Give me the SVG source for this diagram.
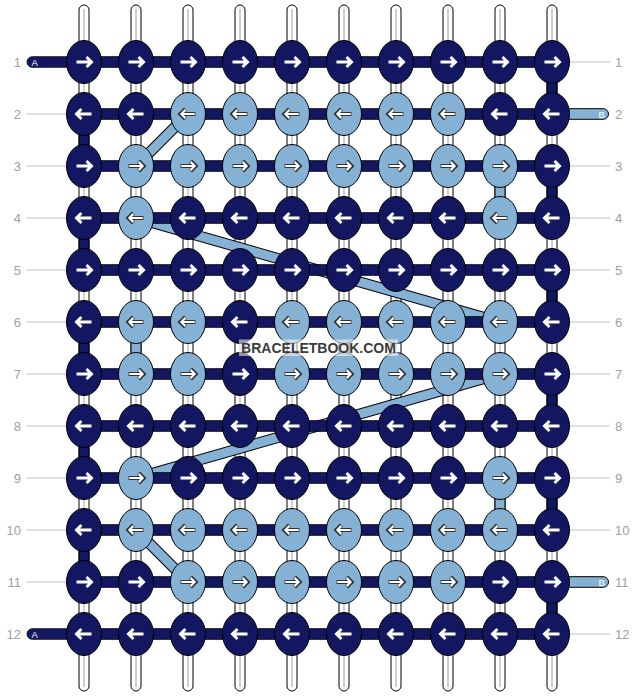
<svg xmlns="http://www.w3.org/2000/svg" xmlns:xlink="http://www.w3.org/1999/xlink" width="636" height="696" viewBox="0 0 636 696">
<style>
.lab{font-family:"Liberation Sans",Arial,sans-serif;font-size:13px;fill:#a0a0a0}
.ll{stroke:#c0c0c0;stroke-width:1}
.vs{fill:#ffffff;stroke:#000;stroke-width:1}
.vc{stroke:#c4c4c4;stroke-width:1.6}
.sN{fill:#131761;stroke:#000;stroke-width:1}
.sL{fill:#85b1d4;stroke:#000;stroke-width:1}
.hN{fill:#131761;stroke:#000;stroke-width:0.8}
.dO{stroke:#000;stroke-width:11;stroke-linecap:butt}
.dI{stroke:#85b1d4;stroke-width:9;stroke-linecap:butt}
ellipse{stroke:#000;stroke-width:1}
.N{fill:#131761}
.L{fill:#85b1d4}
.tl{font-family:"Liberation Sans",Arial,sans-serif;font-size:9.5px;fill:#ffffff}
</style>
<defs>
<g id="r"><path d="M-7.5,0 H7.5 M2.5,-5 L7.5,0 L2.5,5" fill="none" stroke="#fff" stroke-width="3"/></g>
<g id="l"><path d="M7.5,0 H-7.5 M-2.5,-5 L-7.5,0 L-2.5,5" fill="none" stroke="#fff" stroke-width="3"/></g>
<g id="rl"><path d="M-7.5,0 H7.5 M2.5,-5 L7.5,0 L2.5,5" fill="none" stroke="#333" stroke-width="4.2"/><path d="M-6.8,0 H6.6 M2.5,-4.3 L6.6,0 L2.5,4.3" fill="none" stroke="#fff" stroke-width="2.2"/></g>
<g id="ll"><path d="M7.5,0 H-7.5 M-2.5,-5 L-7.5,0 L-2.5,5" fill="none" stroke="#333" stroke-width="4.2"/><path d="M6.8,0 H-6.6 M-2.5,-4.3 L-6.6,0 L-2.5,4.3" fill="none" stroke="#fff" stroke-width="2.2"/></g>
</defs>
<rect width="636" height="696" fill="#ffffff"/>
<g id="labels">
<line class="ll" x1="26" y1="114" x2="70" y2="114"/><line class="ll" x1="26" y1="166" x2="70" y2="166"/><line class="ll" x1="26" y1="218" x2="70" y2="218"/><line class="ll" x1="26" y1="270" x2="70" y2="270"/><line class="ll" x1="26" y1="322" x2="70" y2="322"/><line class="ll" x1="26" y1="374" x2="70" y2="374"/><line class="ll" x1="26" y1="426" x2="70" y2="426"/><line class="ll" x1="26" y1="478" x2="70" y2="478"/><line class="ll" x1="26" y1="530" x2="70" y2="530"/><line class="ll" x1="26" y1="582" x2="70" y2="582"/>
<line class="ll" x1="566" y1="62" x2="610" y2="62"/><line class="ll" x1="566" y1="166" x2="610" y2="166"/><line class="ll" x1="566" y1="218" x2="610" y2="218"/><line class="ll" x1="566" y1="270" x2="610" y2="270"/><line class="ll" x1="566" y1="322" x2="610" y2="322"/><line class="ll" x1="566" y1="374" x2="610" y2="374"/><line class="ll" x1="566" y1="426" x2="610" y2="426"/><line class="ll" x1="566" y1="478" x2="610" y2="478"/><line class="ll" x1="566" y1="530" x2="610" y2="530"/><line class="ll" x1="566" y1="634" x2="610" y2="634"/>
<g class="lab" text-anchor="end">
<text x="21" y="67">1</text><text x="21" y="119">2</text><text x="21" y="171">3</text><text x="21" y="223">4</text><text x="21" y="275">5</text><text x="21" y="327">6</text><text x="21" y="379">7</text><text x="21" y="431">8</text><text x="21" y="483">9</text><text x="21" y="535">10</text><text x="21" y="587">11</text><text x="21" y="639">12</text>
</g>
<g class="lab">
<text x="615" y="67">1</text><text x="615" y="119">2</text><text x="615" y="171">3</text><text x="615" y="223">4</text><text x="615" y="275">5</text><text x="615" y="327">6</text><text x="615" y="379">7</text><text x="615" y="431">8</text><text x="615" y="483">9</text><text x="615" y="535">10</text><text x="615" y="587">11</text><text x="615" y="639">12</text>
</g>
</g>
<g id="connectors">
<g id="vertical-strings">
<rect class="vs" x="79" y="5" width="10" height="686" rx="5"/><rect class="vs" x="131" y="5" width="10" height="686" rx="5"/><rect class="vs" x="183" y="5" width="10" height="686" rx="5"/><rect class="vs" x="235" y="5" width="10" height="686" rx="5"/><rect class="vs" x="287" y="5" width="10" height="686" rx="5"/><rect class="vs" x="339" y="5" width="10" height="686" rx="5"/><rect class="vs" x="391" y="5" width="10" height="686" rx="5"/><rect class="vs" x="443" y="5" width="10" height="686" rx="5"/><rect class="vs" x="495" y="5" width="10" height="686" rx="5"/><rect class="vs" x="547" y="5" width="10" height="686" rx="5"/>
<line class="vc" x1="84" y1="9" x2="84" y2="687"/><line class="vc" x1="136" y1="9" x2="136" y2="687"/><line class="vc" x1="188" y1="9" x2="188" y2="687"/><line class="vc" x1="240" y1="9" x2="240" y2="687"/><line class="vc" x1="292" y1="9" x2="292" y2="687"/><line class="vc" x1="344" y1="9" x2="344" y2="687"/><line class="vc" x1="396" y1="9" x2="396" y2="687"/><line class="vc" x1="448" y1="9" x2="448" y2="687"/><line class="vc" x1="500" y1="9" x2="500" y2="687"/><line class="vc" x1="552" y1="9" x2="552" y2="687"/>
</g>
<g id="vertical-segments">
<rect class="sN" x="79" y="114" width="10" height="52"/><rect class="sN" x="79" y="218" width="10" height="52"/><rect class="sN" x="79" y="322" width="10" height="52"/><rect class="sN" x="79" y="426" width="10" height="52"/><rect class="sN" x="79" y="530" width="10" height="52"/>
<rect class="sN" x="547" y="62" width="10" height="52"/><rect class="sN" x="547" y="166" width="10" height="52"/><rect class="sN" x="547" y="270" width="10" height="52"/><rect class="sN" x="547" y="374" width="10" height="52"/><rect class="sN" x="547" y="478" width="10" height="52"/><rect class="sN" x="547" y="582" width="10" height="52"/>
<rect class="sL" x="495" y="166" width="10" height="52"/><rect class="sL" x="495" y="478" width="10" height="52"/><rect class="sL" x="131" y="322" width="10" height="52"/>
</g>
<g id="diagonals">
<line class="dO" x1="188" y1="114" x2="136" y2="166"/><line class="dI" x1="188" y1="114" x2="136" y2="166"/>
<line class="dO" x1="136" y1="218" x2="500" y2="322"/><line class="dI" x1="136" y1="218" x2="500" y2="322"/>
<line class="dO" x1="500" y1="374" x2="136" y2="478"/><line class="dI" x1="500" y1="374" x2="136" y2="478"/>
<line class="dO" x1="136" y1="530" x2="188" y2="582"/><line class="dI" x1="136" y1="530" x2="188" y2="582"/>
</g>
<g id="horizontal-strings">
<rect class="hN" x="27" y="56.7" width="63" height="10.6" rx="5.3"/><rect class="hN" x="27" y="628.7" width="63" height="10.6" rx="5.3"/>
<rect class="hN" x="84" y="56.7" width="468" height="10.6"/><rect class="hN" x="84" y="108.7" width="468" height="10.6"/><rect class="hN" x="84" y="160.7" width="468" height="10.6"/><rect class="hN" x="84" y="212.7" width="468" height="10.6"/><rect class="hN" x="84" y="264.7" width="468" height="10.6"/><rect class="hN" x="84" y="316.7" width="468" height="10.6"/><rect class="hN" x="84" y="368.7" width="468" height="10.6"/><rect class="hN" x="84" y="420.7" width="468" height="10.6"/><rect class="hN" x="84" y="472.7" width="468" height="10.6"/><rect class="hN" x="84" y="524.7" width="468" height="10.6"/><rect class="hN" x="84" y="576.7" width="468" height="10.6"/><rect class="hN" x="84" y="628.7" width="468" height="10.6"/>
<rect class="sL" x="545" y="108.7" width="63.5" height="10.6" rx="5.3"/><rect class="sL" x="545" y="576.7" width="63.5" height="10.6" rx="5.3"/>
<text class="tl" x="31.5" y="65.5">A</text><text class="tl" x="31.5" y="637.5">A</text>
<text class="tl" x="598.5" y="117.5">B</text><text class="tl" x="598.5" y="585.5">B</text>
</g>
</g>
<g id="knots">
<g id="k1-1"><ellipse class="N" cx="84" cy="62" rx="17.5" ry="21.5"/><use href="#r" x="84" y="62"/></g>
<g id="k1-2"><ellipse class="N" cx="136" cy="62" rx="17.5" ry="21.5"/><use href="#r" x="136" y="62"/></g>
<g id="k1-3"><ellipse class="N" cx="188" cy="62" rx="17.5" ry="21.5"/><use href="#r" x="188" y="62"/></g>
<g id="k1-4"><ellipse class="N" cx="240" cy="62" rx="17.5" ry="21.5"/><use href="#r" x="240" y="62"/></g>
<g id="k1-5"><ellipse class="N" cx="292" cy="62" rx="17.5" ry="21.5"/><use href="#r" x="292" y="62"/></g>
<g id="k1-6"><ellipse class="N" cx="344" cy="62" rx="17.5" ry="21.5"/><use href="#r" x="344" y="62"/></g>
<g id="k1-7"><ellipse class="N" cx="396" cy="62" rx="17.5" ry="21.5"/><use href="#r" x="396" y="62"/></g>
<g id="k1-8"><ellipse class="N" cx="448" cy="62" rx="17.5" ry="21.5"/><use href="#r" x="448" y="62"/></g>
<g id="k1-9"><ellipse class="N" cx="500" cy="62" rx="17.5" ry="21.5"/><use href="#r" x="500" y="62"/></g>
<g id="k1-10"><ellipse class="N" cx="552" cy="62" rx="17.5" ry="21.5"/><use href="#r" x="552" y="62"/></g>

<g id="k2-1"><ellipse class="N" cx="84" cy="114" rx="17.5" ry="21.5"/><use href="#l" x="84" y="114"/></g>
<g id="k2-2"><ellipse class="N" cx="136" cy="114" rx="17.5" ry="21.5"/><use href="#l" x="136" y="114"/></g>
<g id="k2-3"><ellipse class="L" cx="188" cy="114" rx="17.5" ry="21.5"/><use href="#ll" x="188" y="114"/></g>
<g id="k2-4"><ellipse class="L" cx="240" cy="114" rx="17.5" ry="21.5"/><use href="#ll" x="240" y="114"/></g>
<g id="k2-5"><ellipse class="L" cx="292" cy="114" rx="17.5" ry="21.5"/><use href="#ll" x="292" y="114"/></g>
<g id="k2-6"><ellipse class="L" cx="344" cy="114" rx="17.5" ry="21.5"/><use href="#ll" x="344" y="114"/></g>
<g id="k2-7"><ellipse class="L" cx="396" cy="114" rx="17.5" ry="21.5"/><use href="#ll" x="396" y="114"/></g>
<g id="k2-8"><ellipse class="L" cx="448" cy="114" rx="17.5" ry="21.5"/><use href="#ll" x="448" y="114"/></g>
<g id="k2-9"><ellipse class="N" cx="500" cy="114" rx="17.5" ry="21.5"/><use href="#l" x="500" y="114"/></g>
<g id="k2-10"><ellipse class="N" cx="552" cy="114" rx="17.5" ry="21.5"/><use href="#l" x="552" y="114"/></g>

<g id="k3-1"><ellipse class="N" cx="84" cy="166" rx="17.5" ry="21.5"/><use href="#r" x="84" y="166"/></g>
<g id="k3-2"><ellipse class="L" cx="136" cy="166" rx="17.5" ry="21.5"/><use href="#rl" x="136" y="166"/></g>
<g id="k3-3"><ellipse class="L" cx="188" cy="166" rx="17.5" ry="21.5"/><use href="#rl" x="188" y="166"/></g>
<g id="k3-4"><ellipse class="L" cx="240" cy="166" rx="17.5" ry="21.5"/><use href="#rl" x="240" y="166"/></g>
<g id="k3-5"><ellipse class="L" cx="292" cy="166" rx="17.5" ry="21.5"/><use href="#rl" x="292" y="166"/></g>
<g id="k3-6"><ellipse class="L" cx="344" cy="166" rx="17.5" ry="21.5"/><use href="#rl" x="344" y="166"/></g>
<g id="k3-7"><ellipse class="L" cx="396" cy="166" rx="17.5" ry="21.5"/><use href="#rl" x="396" y="166"/></g>
<g id="k3-8"><ellipse class="L" cx="448" cy="166" rx="17.5" ry="21.5"/><use href="#rl" x="448" y="166"/></g>
<g id="k3-9"><ellipse class="L" cx="500" cy="166" rx="17.5" ry="21.5"/><use href="#rl" x="500" y="166"/></g>
<g id="k3-10"><ellipse class="N" cx="552" cy="166" rx="17.5" ry="21.5"/><use href="#r" x="552" y="166"/></g>

<g id="k4-1"><ellipse class="N" cx="84" cy="218" rx="17.5" ry="21.5"/><use href="#l" x="84" y="218"/></g>
<g id="k4-2"><ellipse class="L" cx="136" cy="218" rx="17.5" ry="21.5"/><use href="#ll" x="136" y="218"/></g>
<g id="k4-3"><ellipse class="N" cx="188" cy="218" rx="17.5" ry="21.5"/><use href="#l" x="188" y="218"/></g>
<g id="k4-4"><ellipse class="N" cx="240" cy="218" rx="17.5" ry="21.5"/><use href="#l" x="240" y="218"/></g>
<g id="k4-5"><ellipse class="N" cx="292" cy="218" rx="17.5" ry="21.5"/><use href="#l" x="292" y="218"/></g>
<g id="k4-6"><ellipse class="N" cx="344" cy="218" rx="17.5" ry="21.5"/><use href="#l" x="344" y="218"/></g>
<g id="k4-7"><ellipse class="N" cx="396" cy="218" rx="17.5" ry="21.5"/><use href="#l" x="396" y="218"/></g>
<g id="k4-8"><ellipse class="N" cx="448" cy="218" rx="17.5" ry="21.5"/><use href="#l" x="448" y="218"/></g>
<g id="k4-9"><ellipse class="L" cx="500" cy="218" rx="17.5" ry="21.5"/><use href="#ll" x="500" y="218"/></g>
<g id="k4-10"><ellipse class="N" cx="552" cy="218" rx="17.5" ry="21.5"/><use href="#l" x="552" y="218"/></g>

<g id="k5-1"><ellipse class="N" cx="84" cy="270" rx="17.5" ry="21.5"/><use href="#r" x="84" y="270"/></g>
<g id="k5-2"><ellipse class="N" cx="136" cy="270" rx="17.5" ry="21.5"/><use href="#r" x="136" y="270"/></g>
<g id="k5-3"><ellipse class="N" cx="188" cy="270" rx="17.5" ry="21.5"/><use href="#r" x="188" y="270"/></g>
<g id="k5-4"><ellipse class="N" cx="240" cy="270" rx="17.5" ry="21.5"/><use href="#r" x="240" y="270"/></g>
<g id="k5-5"><ellipse class="N" cx="292" cy="270" rx="17.5" ry="21.5"/><use href="#r" x="292" y="270"/></g>
<g id="k5-6"><ellipse class="N" cx="344" cy="270" rx="17.5" ry="21.5"/><use href="#r" x="344" y="270"/></g>
<g id="k5-7"><ellipse class="N" cx="396" cy="270" rx="17.5" ry="21.5"/><use href="#r" x="396" y="270"/></g>
<g id="k5-8"><ellipse class="N" cx="448" cy="270" rx="17.5" ry="21.5"/><use href="#r" x="448" y="270"/></g>
<g id="k5-9"><ellipse class="N" cx="500" cy="270" rx="17.5" ry="21.5"/><use href="#r" x="500" y="270"/></g>
<g id="k5-10"><ellipse class="N" cx="552" cy="270" rx="17.5" ry="21.5"/><use href="#r" x="552" y="270"/></g>

<g id="k6-1"><ellipse class="N" cx="84" cy="322" rx="17.5" ry="21.5"/><use href="#l" x="84" y="322"/></g>
<g id="k6-2"><ellipse class="L" cx="136" cy="322" rx="17.5" ry="21.5"/><use href="#ll" x="136" y="322"/></g>
<g id="k6-3"><ellipse class="L" cx="188" cy="322" rx="17.5" ry="21.5"/><use href="#ll" x="188" y="322"/></g>
<g id="k6-4"><ellipse class="N" cx="240" cy="322" rx="17.5" ry="21.5"/><use href="#l" x="240" y="322"/></g>
<g id="k6-5"><ellipse class="L" cx="292" cy="322" rx="17.5" ry="21.5"/><use href="#ll" x="292" y="322"/></g>
<g id="k6-6"><ellipse class="L" cx="344" cy="322" rx="17.5" ry="21.5"/><use href="#ll" x="344" y="322"/></g>
<g id="k6-7"><ellipse class="L" cx="396" cy="322" rx="17.5" ry="21.5"/><use href="#ll" x="396" y="322"/></g>
<g id="k6-8"><ellipse class="L" cx="448" cy="322" rx="17.5" ry="21.5"/><use href="#ll" x="448" y="322"/></g>
<g id="k6-9"><ellipse class="L" cx="500" cy="322" rx="17.5" ry="21.5"/><use href="#ll" x="500" y="322"/></g>
<g id="k6-10"><ellipse class="N" cx="552" cy="322" rx="17.5" ry="21.5"/><use href="#l" x="552" y="322"/></g>

<g id="k7-1"><ellipse class="N" cx="84" cy="374" rx="17.5" ry="21.5"/><use href="#r" x="84" y="374"/></g>
<g id="k7-2"><ellipse class="L" cx="136" cy="374" rx="17.5" ry="21.5"/><use href="#rl" x="136" y="374"/></g>
<g id="k7-3"><ellipse class="L" cx="188" cy="374" rx="17.5" ry="21.5"/><use href="#rl" x="188" y="374"/></g>
<g id="k7-4"><ellipse class="N" cx="240" cy="374" rx="17.5" ry="21.5"/><use href="#r" x="240" y="374"/></g>
<g id="k7-5"><ellipse class="L" cx="292" cy="374" rx="17.5" ry="21.5"/><use href="#rl" x="292" y="374"/></g>
<g id="k7-6"><ellipse class="L" cx="344" cy="374" rx="17.5" ry="21.5"/><use href="#rl" x="344" y="374"/></g>
<g id="k7-7"><ellipse class="L" cx="396" cy="374" rx="17.5" ry="21.5"/><use href="#rl" x="396" y="374"/></g>
<g id="k7-8"><ellipse class="L" cx="448" cy="374" rx="17.5" ry="21.5"/><use href="#rl" x="448" y="374"/></g>
<g id="k7-9"><ellipse class="L" cx="500" cy="374" rx="17.5" ry="21.5"/><use href="#rl" x="500" y="374"/></g>
<g id="k7-10"><ellipse class="N" cx="552" cy="374" rx="17.5" ry="21.5"/><use href="#r" x="552" y="374"/></g>

<g id="k8-1"><ellipse class="N" cx="84" cy="426" rx="17.5" ry="21.5"/><use href="#l" x="84" y="426"/></g>
<g id="k8-2"><ellipse class="N" cx="136" cy="426" rx="17.5" ry="21.5"/><use href="#l" x="136" y="426"/></g>
<g id="k8-3"><ellipse class="N" cx="188" cy="426" rx="17.5" ry="21.5"/><use href="#l" x="188" y="426"/></g>
<g id="k8-4"><ellipse class="N" cx="240" cy="426" rx="17.5" ry="21.5"/><use href="#l" x="240" y="426"/></g>
<g id="k8-5"><ellipse class="N" cx="292" cy="426" rx="17.5" ry="21.5"/><use href="#l" x="292" y="426"/></g>
<g id="k8-6"><ellipse class="N" cx="344" cy="426" rx="17.5" ry="21.5"/><use href="#l" x="344" y="426"/></g>
<g id="k8-7"><ellipse class="N" cx="396" cy="426" rx="17.5" ry="21.5"/><use href="#l" x="396" y="426"/></g>
<g id="k8-8"><ellipse class="N" cx="448" cy="426" rx="17.5" ry="21.5"/><use href="#l" x="448" y="426"/></g>
<g id="k8-9"><ellipse class="N" cx="500" cy="426" rx="17.5" ry="21.5"/><use href="#l" x="500" y="426"/></g>
<g id="k8-10"><ellipse class="N" cx="552" cy="426" rx="17.5" ry="21.5"/><use href="#l" x="552" y="426"/></g>

<g id="k9-1"><ellipse class="N" cx="84" cy="478" rx="17.5" ry="21.5"/><use href="#r" x="84" y="478"/></g>
<g id="k9-2"><ellipse class="L" cx="136" cy="478" rx="17.5" ry="21.5"/><use href="#rl" x="136" y="478"/></g>
<g id="k9-3"><ellipse class="N" cx="188" cy="478" rx="17.5" ry="21.5"/><use href="#r" x="188" y="478"/></g>
<g id="k9-4"><ellipse class="N" cx="240" cy="478" rx="17.5" ry="21.5"/><use href="#r" x="240" y="478"/></g>
<g id="k9-5"><ellipse class="N" cx="292" cy="478" rx="17.5" ry="21.5"/><use href="#r" x="292" y="478"/></g>
<g id="k9-6"><ellipse class="N" cx="344" cy="478" rx="17.5" ry="21.5"/><use href="#r" x="344" y="478"/></g>
<g id="k9-7"><ellipse class="N" cx="396" cy="478" rx="17.5" ry="21.5"/><use href="#r" x="396" y="478"/></g>
<g id="k9-8"><ellipse class="N" cx="448" cy="478" rx="17.5" ry="21.5"/><use href="#r" x="448" y="478"/></g>
<g id="k9-9"><ellipse class="L" cx="500" cy="478" rx="17.5" ry="21.5"/><use href="#rl" x="500" y="478"/></g>
<g id="k9-10"><ellipse class="N" cx="552" cy="478" rx="17.5" ry="21.5"/><use href="#r" x="552" y="478"/></g>

<g id="k10-1"><ellipse class="N" cx="84" cy="530" rx="17.5" ry="21.5"/><use href="#l" x="84" y="530"/></g>
<g id="k10-2"><ellipse class="L" cx="136" cy="530" rx="17.5" ry="21.5"/><use href="#ll" x="136" y="530"/></g>
<g id="k10-3"><ellipse class="L" cx="188" cy="530" rx="17.5" ry="21.5"/><use href="#ll" x="188" y="530"/></g>
<g id="k10-4"><ellipse class="L" cx="240" cy="530" rx="17.5" ry="21.5"/><use href="#ll" x="240" y="530"/></g>
<g id="k10-5"><ellipse class="L" cx="292" cy="530" rx="17.5" ry="21.5"/><use href="#ll" x="292" y="530"/></g>
<g id="k10-6"><ellipse class="L" cx="344" cy="530" rx="17.5" ry="21.5"/><use href="#ll" x="344" y="530"/></g>
<g id="k10-7"><ellipse class="L" cx="396" cy="530" rx="17.5" ry="21.5"/><use href="#ll" x="396" y="530"/></g>
<g id="k10-8"><ellipse class="L" cx="448" cy="530" rx="17.5" ry="21.5"/><use href="#ll" x="448" y="530"/></g>
<g id="k10-9"><ellipse class="L" cx="500" cy="530" rx="17.5" ry="21.5"/><use href="#ll" x="500" y="530"/></g>
<g id="k10-10"><ellipse class="N" cx="552" cy="530" rx="17.5" ry="21.5"/><use href="#l" x="552" y="530"/></g>

<g id="k11-1"><ellipse class="N" cx="84" cy="582" rx="17.5" ry="21.5"/><use href="#r" x="84" y="582"/></g>
<g id="k11-2"><ellipse class="N" cx="136" cy="582" rx="17.5" ry="21.5"/><use href="#r" x="136" y="582"/></g>
<g id="k11-3"><ellipse class="L" cx="188" cy="582" rx="17.5" ry="21.5"/><use href="#rl" x="188" y="582"/></g>
<g id="k11-4"><ellipse class="L" cx="240" cy="582" rx="17.5" ry="21.5"/><use href="#rl" x="240" y="582"/></g>
<g id="k11-5"><ellipse class="L" cx="292" cy="582" rx="17.5" ry="21.5"/><use href="#rl" x="292" y="582"/></g>
<g id="k11-6"><ellipse class="L" cx="344" cy="582" rx="17.5" ry="21.5"/><use href="#rl" x="344" y="582"/></g>
<g id="k11-7"><ellipse class="L" cx="396" cy="582" rx="17.5" ry="21.5"/><use href="#rl" x="396" y="582"/></g>
<g id="k11-8"><ellipse class="L" cx="448" cy="582" rx="17.5" ry="21.5"/><use href="#rl" x="448" y="582"/></g>
<g id="k11-9"><ellipse class="N" cx="500" cy="582" rx="17.5" ry="21.5"/><use href="#r" x="500" y="582"/></g>
<g id="k11-10"><ellipse class="N" cx="552" cy="582" rx="17.5" ry="21.5"/><use href="#r" x="552" y="582"/></g>

<g id="k12-1"><ellipse class="N" cx="84" cy="634" rx="17.5" ry="21.5"/><use href="#l" x="84" y="634"/></g>
<g id="k12-2"><ellipse class="N" cx="136" cy="634" rx="17.5" ry="21.5"/><use href="#l" x="136" y="634"/></g>
<g id="k12-3"><ellipse class="N" cx="188" cy="634" rx="17.5" ry="21.5"/><use href="#l" x="188" y="634"/></g>
<g id="k12-4"><ellipse class="N" cx="240" cy="634" rx="17.5" ry="21.5"/><use href="#l" x="240" y="634"/></g>
<g id="k12-5"><ellipse class="N" cx="292" cy="634" rx="17.5" ry="21.5"/><use href="#l" x="292" y="634"/></g>
<g id="k12-6"><ellipse class="N" cx="344" cy="634" rx="17.5" ry="21.5"/><use href="#l" x="344" y="634"/></g>
<g id="k12-7"><ellipse class="N" cx="396" cy="634" rx="17.5" ry="21.5"/><use href="#l" x="396" y="634"/></g>
<g id="k12-8"><ellipse class="N" cx="448" cy="634" rx="17.5" ry="21.5"/><use href="#l" x="448" y="634"/></g>
<g id="k12-9"><ellipse class="N" cx="500" cy="634" rx="17.5" ry="21.5"/><use href="#l" x="500" y="634"/></g>
<g id="k12-10"><ellipse class="N" cx="552" cy="634" rx="17.5" ry="21.5"/><use href="#l" x="552" y="634"/></g>
</g>
<g id="watermark">
<rect x="239" y="339.5" width="159" height="16.5" fill="#ffffff" fill-opacity="0.55"/>
<text x="318.5" y="353" text-anchor="middle" font-family="'Liberation Sans',Arial,sans-serif" font-size="14" font-weight="bold" fill="#3a3a3a">BRACELETBOOK.COM</text>
</g>
</svg>
